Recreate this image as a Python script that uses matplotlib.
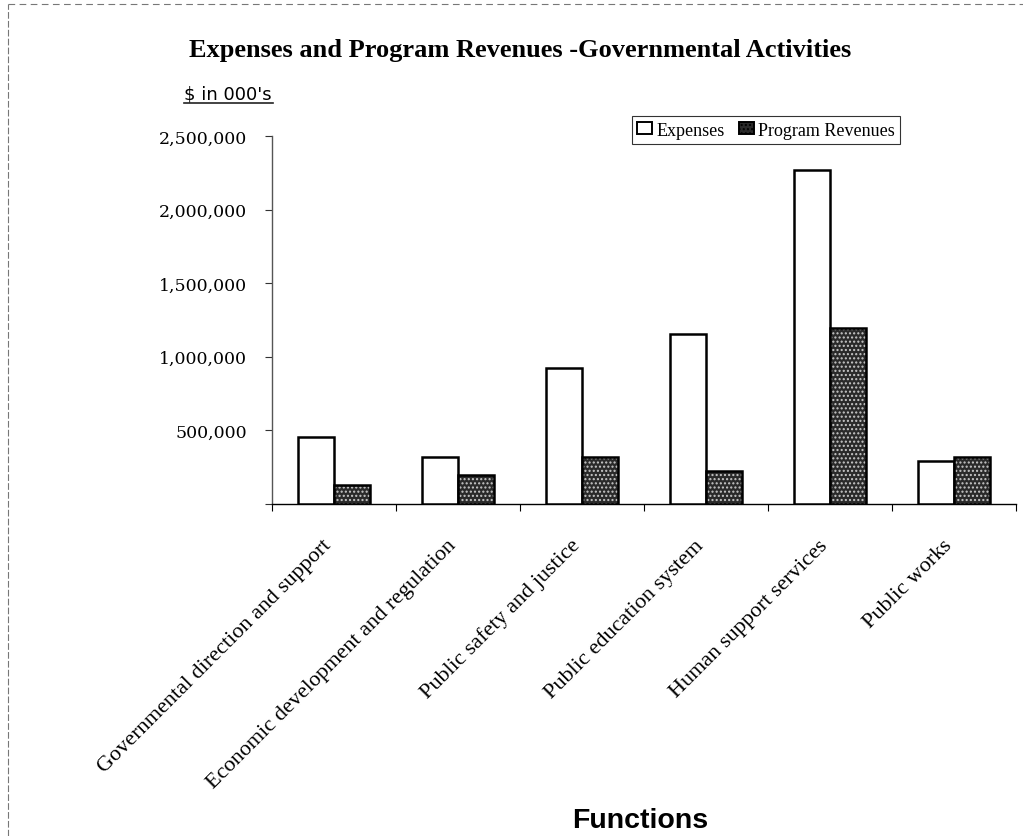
import matplotlib
matplotlib.use("Agg")
import matplotlib.pyplot as plt
import numpy as np
from matplotlib.lines import Line2D
from matplotlib.ticker import FuncFormatter, FixedLocator
from matplotlib.transforms import ScaledTranslation

categories = ["Governmental direction and support",
              "Economic development and regulation",
              "Public safety and justice",
              "Public education system",
              "Human support services",
              "Public works"]
expenses = [458000, 320000, 922000, 1156000, 2266000, 294000]
program_revenues = [129000, 197000, 320000, 222000, 1194000, 320000]
y_ticks = [0, 500000, 1000000, 1500000, 2000000, 2500000]

serif = ["Liberation Serif", "DejaVu Serif"]
wide_serif = ["DejaVu Serif", "Liberation Serif"]
sans = ["Liberation Sans", "DejaVu Sans"]
wide_sans = ["DejaVu Sans", "Liberation Sans"]

W, H = 1023, 837
fig = plt.figure(figsize=(W/100, H/100), dpi=100)
ax = fig.add_axes([272/W, 1-505/H, (1016-272)/W, (505-137)/H])

def ax_x(px):
    return (px - 272) / (1016 - 272)

def ax_y(py):
    return (505 - py) / (505 - 137)

x = np.arange(len(categories))
w = 0.29
ax.bar(x - w/2, expenses, width=w, facecolor="white", edgecolor="black", linewidth=1.8, zorder=3)
ax.bar(x + w/2, program_revenues, width=w, facecolor="#2a2a2a", edgecolor="#c8c8c8",
       hatch="....", linewidth=0, zorder=3)
ax.bar(x + w/2, program_revenues, width=w, facecolor="none", edgecolor="black", linewidth=1.8, zorder=4)

ax.set_xlim(-0.5, len(categories) - 0.5)
ax.set_ylim(0, 2500000)

for s in ["top", "right"]:
    ax.spines[s].set_visible(False)
ax.spines["left"].set_color("#555555")
ax.spines["left"].set_linewidth(1.0)
ax.spines["bottom"].set_color("black")
ax.spines["bottom"].set_linewidth(1.0)

ax.yaxis.set_major_locator(FixedLocator(y_ticks))
ax.yaxis.set_major_formatter(FuncFormatter(lambda v, p: "" if v == 0 else f"{int(v):,}"))
ax.tick_params(axis="y", length=5, width=0.8, direction="out", pad=13, labelsize=12.5,
               colors="#333333", labelcolor="black")
for lab in ax.get_yticklabels():
    lab.set_family(wide_serif)

ax.set_xticks(np.arange(len(categories) + 1) - 0.5)
ax.set_xticklabels([])
ax.tick_params(axis="x", which="major", length=5, width=0.8, direction="out")
ax.set_xticks(x, minor=True)
ax.set_xticklabels(categories, minor=True, rotation=45, ha="right", va="center",
                   rotation_mode="anchor", family=serif, fontsize=16)
ax.tick_params(axis="x", which="minor", length=0, pad=27.5)
shift = ScaledTranslation(-5/100, 0, fig.dpi_scale_trans)
for lab in ax.get_xticklabels(minor=True):
    lab.set_transform(lab.get_transform() + shift)

ax.set_xlabel("Functions", family=sans, fontsize=20.5, fontweight="bold", labelpad=0)
ax.xaxis.label.set_va("center")
ax.xaxis.set_label_coords(ax_x(640), ax_y(821))

fig.text(189/W, 1-57/H, "Expenses and Program Revenues -Governmental Activities",
         ha="left", va="baseline", family=serif, fontsize=19, fontweight="bold")
fig.text(184/W, 1-100/H, "$ in 000's", ha="left", va="baseline", family=wide_sans, fontsize=13)
fig.add_artist(Line2D([184/W, 273/W], [1-103.5/H, 1-103.5/H], color="#222222", linewidth=1.2))

leg = ax.legend(["Expenses", "Program Revenues"], loc="lower left",
                bbox_to_anchor=(ax_x(632), ax_y(145)),
                ncol=2, frameon=True, fancybox=False, prop={"family": serif, "size": 13},
                handlelength=0.83, handleheight=0.6, handletextpad=0.25, columnspacing=0.75,
                borderpad=0.3, borderaxespad=0)
leg.get_frame().set_edgecolor("black")
leg.get_frame().set_linewidth(0.8)
h = leg.legend_handles
h[0].set_facecolor("white"); h[0].set_edgecolor("black"); h[0].set_linewidth(1.4)
h[1].set_facecolor("#2a2a2a"); h[1].set_edgecolor("black"); h[1].set_linewidth(1.4)

fig.add_artist(Line2D([8/W, 8/W], [0, 1-5/H], color="#777777", linewidth=0.8, linestyle=(0, (6, 2))))
fig.add_artist(Line2D([8/W, 1], [1-5/H, 1-5/H], color="#777777", linewidth=0.8, linestyle=(0, (6, 4))))

fig.savefig("out.png", dpi=100)
